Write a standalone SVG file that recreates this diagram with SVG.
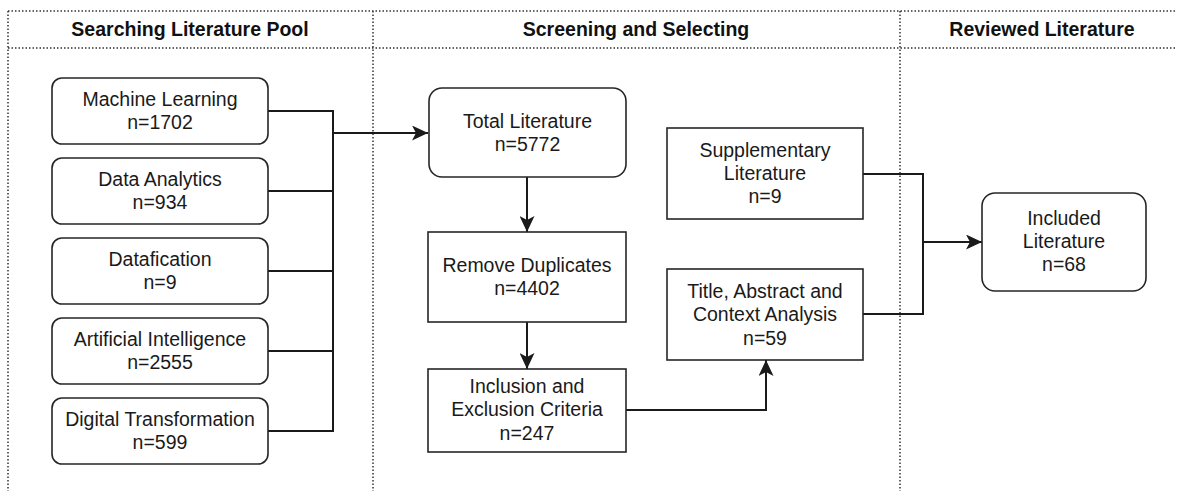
<svg xmlns="http://www.w3.org/2000/svg" width="1177" height="491" viewBox="0 0 1177 491">
<style>
.lane{fill:none;stroke:#333;stroke-width:1.5;stroke-dasharray:1.5 2}
.box{fill:#fff;stroke:#262626;stroke-width:1.6}
.con{fill:none;stroke:#1a1a1a;stroke-width:2}
.t{font-family:"Liberation Sans",Arial,sans-serif;font-size:19.5px;fill:#1a1a1a;text-anchor:middle}
.h{font-family:"Liberation Sans",Arial,sans-serif;font-size:19.5px;font-weight:bold;fill:#111;text-anchor:middle}
</style>
<defs>
<marker id="arr" viewBox="0 0 16 15" refX="16" refY="7.5" markerWidth="16" markerHeight="15" orient="auto" markerUnits="userSpaceOnUse">
<path d="M0,0 L16,7.5 L0,15 L4,7.5 z" fill="#1a1a1a"/>
</marker>
</defs>
<rect width="1177" height="491" fill="#fff"/>
<g id="lanes">
<path class="lane" d="M8,11 H1177 M8,48 H1177 M8,11 V491 M373,11 V491 M900,11 V491"/>
<text class="h" x="190" y="36">Searching Literature Pool</text>
<text class="h" x="636" y="36">Screening and Selecting</text>
<text class="h" x="1042" y="36">Reviewed Literature</text>
</g>
<g id="connectors">
<path class="con" d="M268,111 H333 M268,191 H333 M268,271 H333 M268,351 H333 M268,431 H333 M333,110 V432"/>
<path class="con" d="M333,133 H428" marker-end="url(#arr)"/>
<path class="con" d="M527,177 V232" marker-end="url(#arr)"/>
<path class="con" d="M527,322 V369" marker-end="url(#arr)"/>
<path class="con" d="M626,410 H766 V360" marker-end="url(#arr)"/>
<path class="con" d="M863,174 H923 V314 H863"/>
<path class="con" d="M923,242 H982" marker-end="url(#arr)"/>
</g>
<g id="machine-learning">
<rect class="box" x="52" y="78" width="216" height="66" rx="10"/>
<text class="t" x="160" y="106">Machine Learning</text>
<text class="t" x="160" y="129">n=1702</text>
</g>
<g id="data-analytics">
<rect class="box" x="52" y="158" width="216" height="66" rx="10"/>
<text class="t" x="160" y="186">Data Analytics</text>
<text class="t" x="160" y="209">n=934</text>
</g>
<g id="datafication">
<rect class="box" x="52" y="238" width="216" height="66" rx="10"/>
<text class="t" x="160" y="266">Datafication</text>
<text class="t" x="160" y="289">n=9</text>
</g>
<g id="artificial-intelligence">
<rect class="box" x="52" y="318" width="216" height="66" rx="10"/>
<text class="t" x="160" y="346">Artificial Intelligence</text>
<text class="t" x="160" y="369">n=2555</text>
</g>
<g id="digital-transformation">
<rect class="box" x="52" y="398" width="216" height="66" rx="10"/>
<text class="t" x="160" y="426">Digital Transformation</text>
<text class="t" x="160" y="449">n=599</text>
</g>
<g id="total-literature">
<rect class="box" x="429" y="88" width="197" height="89" rx="13"/>
<text class="t" x="527.5" y="128">Total Literature</text>
<text class="t" x="527.5" y="151">n=5772</text>
</g>
<g id="remove-duplicates">
<rect class="box" x="428" y="232" width="198" height="90"/>
<text class="t" x="527" y="272">Remove Duplicates</text>
<text class="t" x="527" y="295">n=4402</text>
</g>
<g id="inclusion-exclusion">
<rect class="box" x="428" y="369" width="198" height="83"/>
<text class="t" x="527" y="393">Inclusion and</text>
<text class="t" x="527" y="416">Exclusion Criteria</text>
<text class="t" x="527" y="440">n=247</text>
</g>
<g id="supplementary-literature">
<rect class="box" x="667" y="128" width="196" height="91"/>
<text class="t" x="765" y="157">Supplementary</text>
<text class="t" x="765" y="180">Literature</text>
<text class="t" x="765" y="203">n=9</text>
</g>
<g id="title-abstract">
<rect class="box" x="667" y="269" width="196" height="91"/>
<text class="t" x="765" y="298">Title, Abstract and</text>
<text class="t" x="765" y="321">Context Analysis</text>
<text class="t" x="765" y="345">n=59</text>
</g>
<g id="included-literature">
<rect class="box" x="982" y="193" width="164" height="98" rx="13"/>
<text class="t" x="1064" y="225">Included</text>
<text class="t" x="1064" y="248">Literature</text>
<text class="t" x="1064" y="271">n=68</text>
</g>
</svg>
